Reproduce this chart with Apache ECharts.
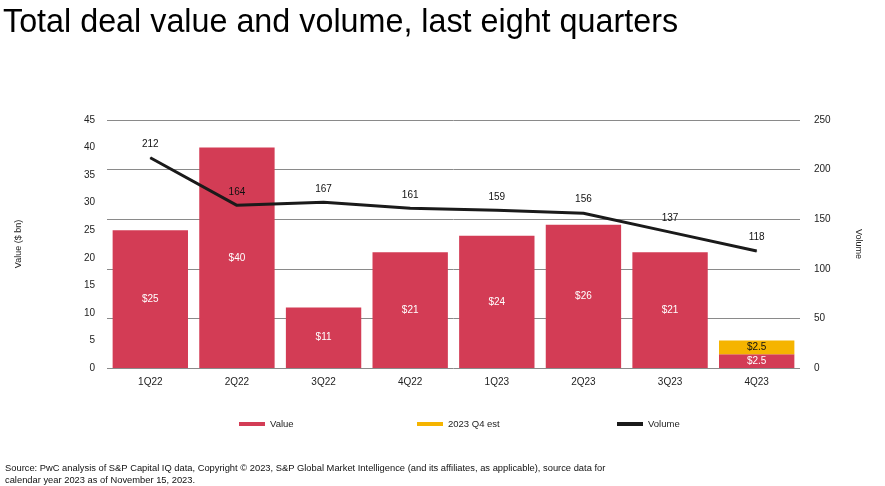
<!DOCTYPE html>
<html>
<head>
<meta charset="utf-8">
<script src="https://cdn.jsdelivr.net/npm/echarts@6/dist/echarts.min.js"></script>
<style>
html,body{margin:0;padding:0;background:#fff;}
#chart{width:885px;height:486px;}
</style>
</head>
<body>
<div id="chart"></div>
<script>
const categories = ['1Q22','2Q22','3Q22','4Q22','1Q23','2Q23','3Q23','4Q23'];
const valueData = [25, 40, 11, 21, 24, 26, 21, 2.5];
const estData = [null, null, null, null, null, null, null, 2.5];
const volumeData = [212, 164, 167, 161, 159, 156, 137, 118];

const FONT = '"Liberation Sans", Arial, sans-serif';
const RED = '#d33c55';
const YELLOW = '#f5b400';
const chart = echarts.init(document.getElementById('chart'));
chart.setOption({
  animation: false,
  textStyle: {fontFamily: FONT},
  title: [{
    text: 'Total deal value and volume, last eight quarters',
    left: -2, top: 2,
    textStyle: {fontFamily: FONT, fontSize: 32.3, fontWeight: 'normal', color: '#000'}
  }, {
    text: 'Source: PwC analysis of S&P Capital IQ data, Copyright © 2023, S&P Global Market Intelligence (and its affiliates, as applicable), source data for\ncalendar year 2023 as of November 15, 2023.',
    left: 0, top: 458,
    textStyle: {fontFamily: FONT, fontSize: 9.35, fontWeight: 'normal', color: '#111', lineHeight: 11.5}
  }],
  legend: [{
    data: ['Value'], left: 234, top: 414, itemWidth: 26, itemHeight: 4, icon: 'rect', itemGap: 6,
    textStyle: {fontFamily: FONT, fontSize: 9.5, color: '#222'}
  }, {
    data: ['2023 Q4 est'], left: 412, top: 414, itemWidth: 26, itemHeight: 4, icon: 'rect',
    textStyle: {fontFamily: FONT, fontSize: 9.5, color: '#222'}
  }, {
    data: ['Volume'], left: 612, top: 414, itemWidth: 26, itemHeight: 4, icon: 'rect',
    textStyle: {fontFamily: FONT, fontSize: 9.5, color: '#222'}
  }],
  grid: {left: 107, right: 85, top: 120, bottom: 118},
  xAxis: {
    type: 'category', data: categories,
    axisLine: {show: false}, axisTick: {show: false},
    axisLabel: {fontFamily: FONT, fontSize: 10, color: '#222', margin: 9}
  },
  yAxis: [{
    type: 'value', min: 0, max: 45, interval: 5,
    name: 'Value ($ bn)', nameLocation: 'middle', nameRotate: 90, nameGap: 84,
    nameTextStyle: {fontFamily: FONT, fontSize: 9, color: '#222'},
    axisLine: {show: false}, axisTick: {show: false}, splitLine: {show: false},
    axisLabel: {fontFamily: FONT, fontSize: 10, color: '#222', margin: 12}
  }, {
    type: 'value', min: 0, max: 250, interval: 50,
    name: 'Volume', nameLocation: 'middle', nameRotate: -90, nameGap: 54,
    nameTextStyle: {fontFamily: FONT, fontSize: 9, color: '#222'},
    axisLine: {show: false}, axisTick: {show: false},
    splitLine: {show: true, lineStyle: {color: '#8a8a8a', width: 1}},
    axisLabel: {fontFamily: FONT, fontSize: 10, color: '#222', margin: 14}
  }],
  series: [{
    name: 'Value', type: 'bar', stack: 'v', data: valueData,
    barCategoryGap: '13%', itemStyle: {color: RED},
    label: {show: true, position: 'inside', formatter: p => '$' + p.value, color: '#fff', fontFamily: FONT, fontSize: 10}
  }, {
    name: '2023 Q4 est', type: 'bar', stack: 'v', data: estData,
    itemStyle: {color: YELLOW},
    label: {show: true, position: 'inside', formatter: p => '$' + p.value, color: '#111', fontFamily: FONT, fontSize: 10}
  }, {
    name: 'Volume', type: 'line', yAxisIndex: 1, data: volumeData,
    symbol: 'circle', symbolSize: 1, showSymbol: true,
    lineStyle: {color: '#1a1a1a', width: 3}, itemStyle: {color: '#1a1a1a'},
    label: {show: true, position: 'top', distance: 8, color: '#111', fontFamily: FONT, fontSize: 10}
  }]
});
</script>
</body>
</html>
